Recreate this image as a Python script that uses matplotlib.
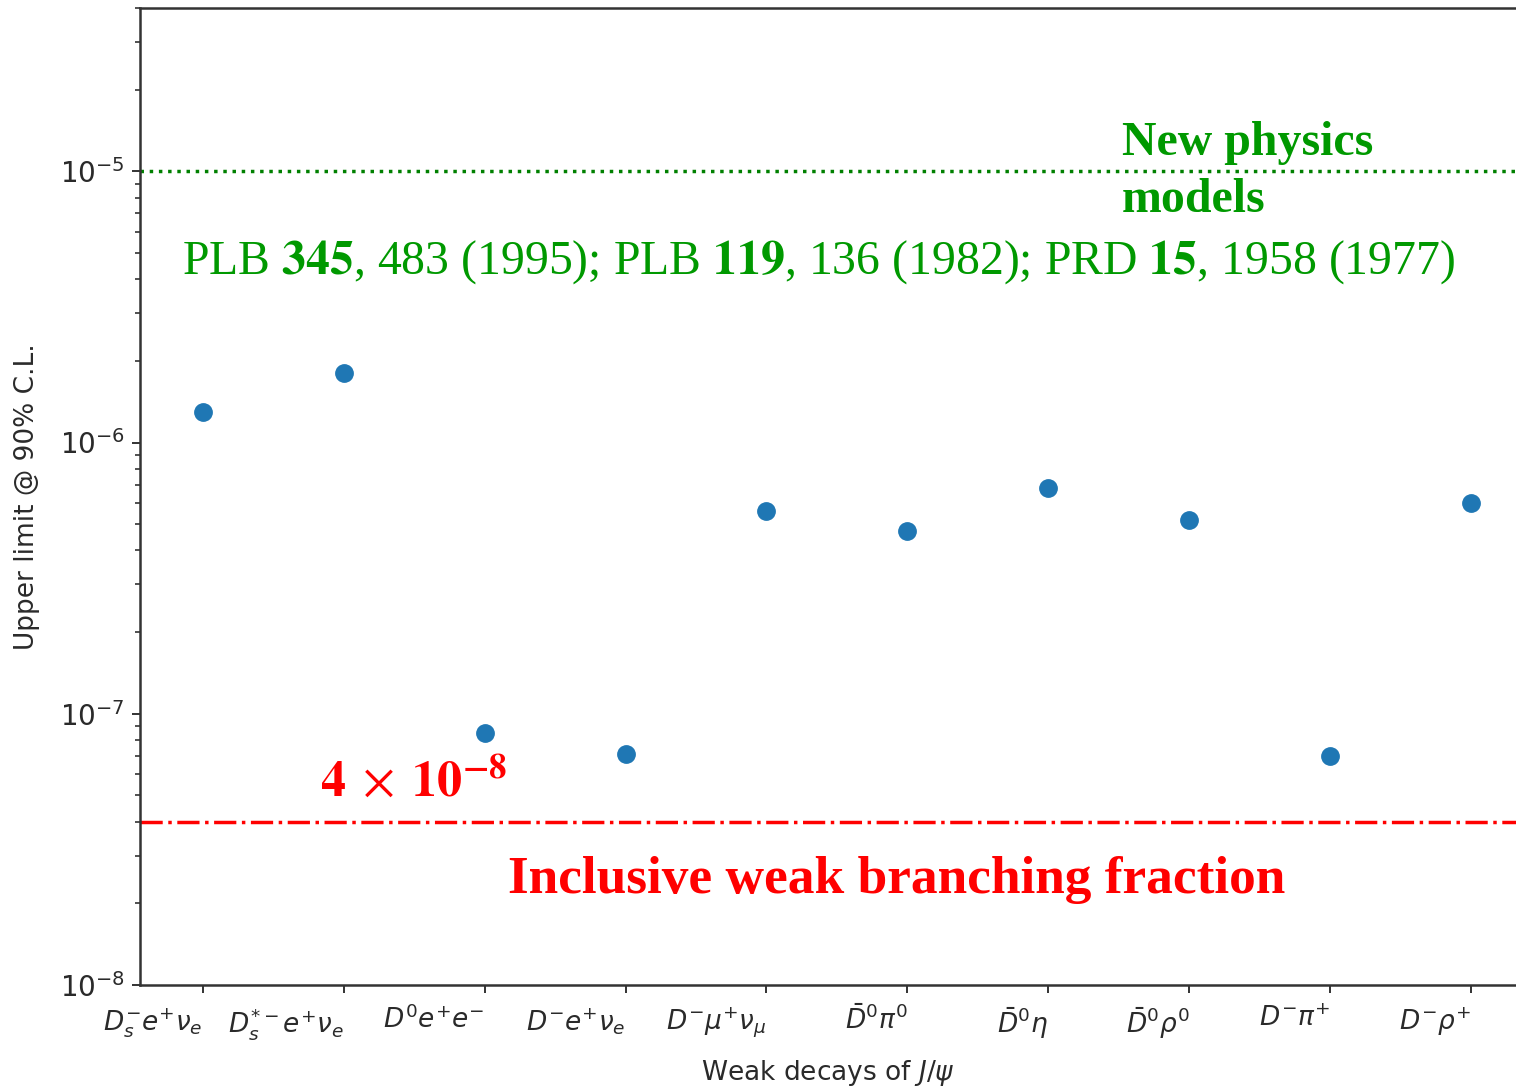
import numpy as np
import matplotlib.pyplot as plt

decays = [r'$D_s^{-}e^{+}\nu_e$', r'$D_s^{*-}e^{+}\nu_e$', r'$D^{0}e^{+}e^{-}$',
          r'$D^{-}e^{+}\nu_e$', r'$D^{-}\mu^{+}\nu_\mu$', r'$\bar{D}^{0}\pi^{0}$',
          r'$\bar{D}^{0}\eta$', r'$\bar{D}^{0}\rho^{0}$', r'$D^{-}\pi^{+}$', r'$D^{-}\rho^{+}$']
upper_limits = [1.3e-6, 1.8e-6, 8.5e-8, 7.1e-8, 5.6e-7,
                4.7e-7, 6.8e-7, 5.2e-7, 7.0e-8, 6.0e-7]
new_physics = 1e-5
inclusive_weak = 4e-8

green = '#009900'
dark = '#2a2a2a'

fig = plt.figure(figsize=(15.16, 10.88), dpi=100)
ax = fig.add_axes([0.0923, 0.0947, 0.9077, 0.8979])

x = np.arange(len(decays))
ax.plot(x, upper_limits, 'o', color='C0', markersize=12.5)
ax.axhline(new_physics, color='green', linestyle=':', linewidth=2.5)
ax.axhline(inclusive_weak, color='red', linestyle='-.', linewidth=2.5)

ax.set_yscale('log')
ax.set_ylim(1e-8, 4e-5)
ax.set_xlim(-0.447, 9.32)
ax.set_xticks(x)
ax.set_xticklabels(decays, ha='right')
ax.tick_params(axis='both', which='major', length=6, width=1.4, color='#333333', labelcolor=dark)
ax.tick_params(axis='x', labelsize=19, pad=9)
ax.tick_params(axis='y', labelsize=20, pad=5)
ax.tick_params(axis='y', which='minor', length=3.5, width=1.2, color='#333333')
for side in ['left', 'bottom', 'top']:
    ax.spines[side].set_linewidth(1.8)
    ax.spines[side].set_color('#333333')
ax.spines['right'].set_visible(False)

ax.set_xlabel(r'Weak decays of $J/\psi$', fontsize=19, color=dark, labelpad=12)
ax.set_ylabel('Upper limit @ 90% C.L.', fontsize=19, color=dark, labelpad=14)

serif = ['Liberation Serif', 'DejaVu Serif']
ax.text(6.52, 1.146e-5, 'New physics', color=green, fontsize=34.5, fontweight='bold',
        family=serif, ha='left', va='baseline')
ax.text(6.52, 7.06e-6, 'models', color=green, fontsize=34.5, fontweight='bold',
        family=serif, ha='left', va='baseline')
ax.text(-0.149, 4.21e-6,
        r'PLB $\mathbf{345}$, 483 (1995); PLB $\mathbf{119}$, 136 (1982); PRD $\mathbf{15}$, 1958 (1977)',
        color=green, fontsize=34.4, family=serif, math_fontfamily='stix', ha='left', va='baseline')
ax.text(0.83, 4.94e-8, r'$\mathbf{4}\;\times\;\mathbf{10^{-8}}$', color='red', fontsize=36,
        math_fontfamily='stix', ha='left', va='baseline')
ax.text(2.163, 2.19e-8, 'Inclusive weak branching fraction', color='red', fontsize=38.4,
        fontweight='bold', family=serif, ha='left', va='baseline')

fig.savefig('out.png', dpi=100)
